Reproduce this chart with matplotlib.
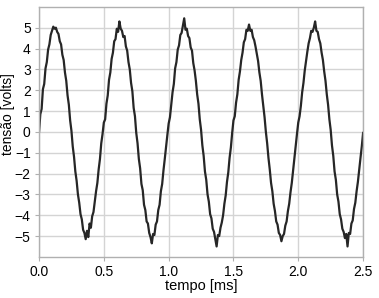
import matplotlib
matplotlib.use("Agg")
import matplotlib.pyplot as plt
import numpy as np

plt.rcParams['font.family'] = ['Liberation Sans', 'DejaVu Sans']

# voltage samples, one every 0.01 ms
tensao = [
    0.00, 0.85, 1.10, 2.05, 2.30, 3.05, 3.35, 3.95, 4.20, 4.65,
    4.85, 5.05, 4.95, 5.00, 4.80, 4.70, 4.35, 4.20, 3.70, 3.45,
    2.85, 2.45, 1.75, 1.30, 0.55, 0.05, -0.70, -1.20, -1.90, -2.35,
    -3.00, -3.40, -3.95, -4.20, -4.70, -4.85, -5.15, -4.75, -5.05, -4.40,
    -4.60, -4.05, -3.85, -3.35, -2.85, -2.45, -1.80, -1.30, -0.55, -0.10,
    0.45, 0.60, 1.35, 1.75, 2.50, 2.85, 3.50, 3.80, 4.35, 4.45,
    4.95, 4.80, 5.30, 4.95, 4.85, 4.55, 4.60, 4.10, 3.90, 3.35,
    3.00, 2.35, 1.95, 1.15, 0.75, -0.05, -0.55, -1.30, -1.75, -2.50,
    -2.80, -3.50, -3.75, -4.30, -4.40, -4.85, -5.05, -5.35, -4.90, -4.95,
    -4.45, -4.30, -3.75, -3.50, -2.85, -2.50, -1.85, -1.30, -0.70, -0.15,
    0.40, 0.70, 1.30, 1.90, 2.30, 3.05, 3.35, 3.95, 4.15, 4.65,
    4.75, 5.10, 5.45, 4.90, 4.95, 4.60, 4.50, 4.05, 3.90, 3.30,
    2.95, 2.45, 1.80, 1.35, 0.60, 0.10, -0.65, -1.15, -1.90, -2.30,
    -3.00, -3.35, -3.95, -4.15, -4.65, -4.80, -5.15, -5.50, -4.95, -5.00,
    -4.60, -4.35, -4.00, -3.45, -3.05, -2.40, -1.95, -1.25, -0.75, -0.05,
    0.55, 0.75, 1.40, 1.80, 2.50, 2.90, 3.45, 3.80, 4.30, 4.45,
    4.90, 4.85, 5.15, 4.85, 4.90, 4.55, 4.40, 4.10, 3.75, 3.40,
    2.85, 2.45, 1.80, 1.25, 0.70, 0.00, -0.55, -1.25, -1.80, -2.45,
    -2.85, -3.45, -3.80, -4.30, -4.45, -4.85, -4.95, -5.25, -5.00, -4.90,
    -4.50, -4.30, -3.80, -3.45, -2.90, -2.45, -1.85, -1.25, -0.70, -0.10,
    0.45, 0.75, 1.25, 1.90, 2.35, 2.95, 3.40, 3.85, 4.25, 4.50,
    4.85, 4.80, 5.00, 5.30, 4.85, 4.80, 4.45, 4.25, 3.80, 3.45,
    2.90, 2.45, 1.80, 1.30, 0.60, 0.10, -0.65, -1.15, -1.90, -2.30,
    -3.00, -3.35, -3.95, -4.20, -4.65, -4.80, -5.10, -4.90, -5.50, -4.85,
    -4.90, -4.40, -4.25, -3.70, -3.40, -2.85, -2.40, -1.80, -1.25, -0.70,
    -0.05,
]
dt = 0.01
tempo = np.arange(len(tensao)) * dt

xticks = [0.0, 0.5, 1.0, 1.5, 2.0, 2.5]
yticks = [-5, -4, -3, -2, -1, 0, 1, 2, 3, 4, 5]

fig = plt.figure(figsize=(3.79, 2.98), dpi=100)
ax = fig.add_axes([0.103, 0.138, 0.855, 0.839])

ax.plot(tempo, tensao, color="#262626", linewidth=1.6)

ax.set_xlim(0, 2.5)
ax.set_ylim(-6, 6)
ax.set_xticks(xticks)
ax.set_xticklabels(["%.1f" % x for x in xticks])
ax.set_yticks(yticks)
ax.set_yticklabels([str(y).replace("-", "\u2212") for y in yticks])
ax.grid(color="#d4d4d4", linewidth=1.0)
ax.set_axisbelow(True)
for s in ax.spines.values():
    s.set_color("#b0b0b0")
    s.set_linewidth(1.0)
ax.tick_params(length=3, color="#b0b0b0", labelsize=10, pad=3)

ax.set_xlabel("tempo [ms]", fontsize=10.5, labelpad=0)
ax.set_ylabel("tensão [volts]", fontsize=10, va="center")
ax.yaxis.set_label_coords(-0.097, 0.57)

fig.savefig("out.png", dpi=100)
